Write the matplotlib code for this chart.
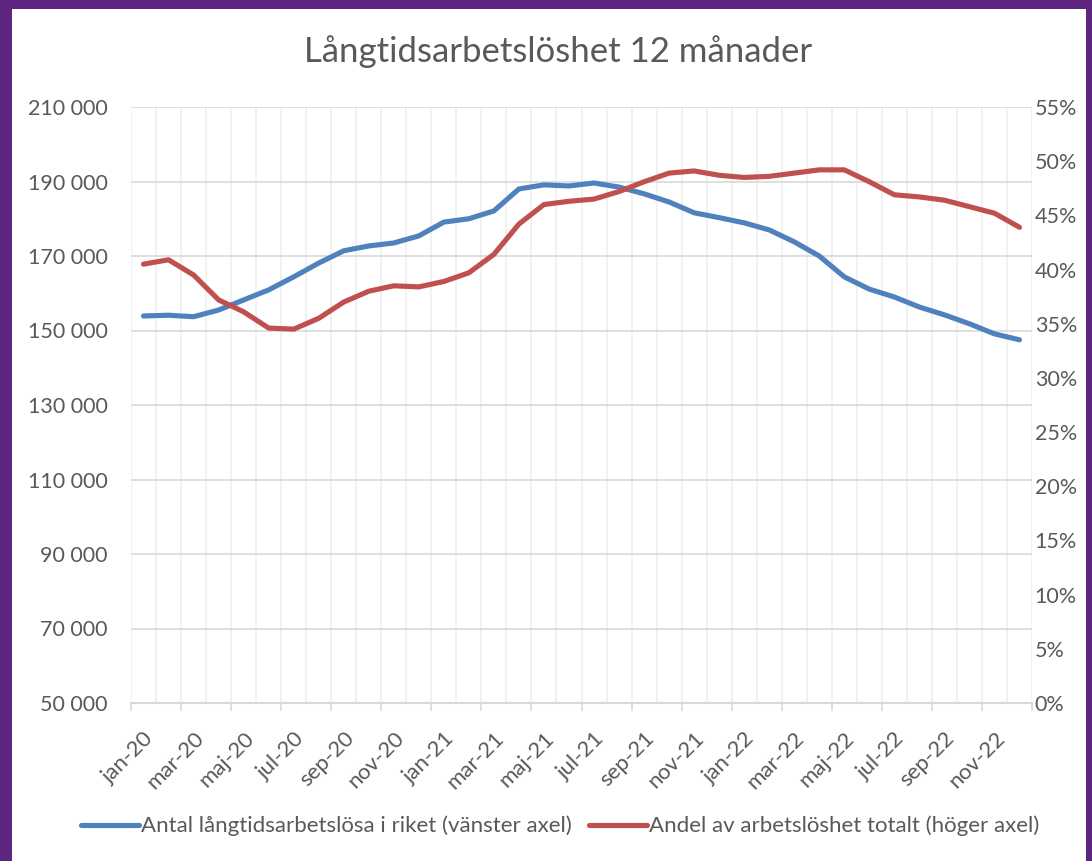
import numpy as np
import matplotlib
matplotlib.use("Agg")
import matplotlib.pyplot as plt
from matplotlib.lines import Line2D
from matplotlib.patches import Rectangle
from matplotlib.ticker import FuncFormatter

MONTHS = ["jan", "feb", "mar", "apr", "maj", "jun", "jul", "aug", "sep", "okt", "nov", "dec"]
YEARS = ["20", "21", "22"]
labels = [f"{m}-{y}" for y in YEARS for m in MONTHS]

# antal långtidsarbetslösa (vänster axel)
antal = [153900, 154100, 153700, 155500, 158200, 160900, 164400, 168100, 171400, 172700,
         173500, 175400, 179100, 180000, 182100, 188000, 189100, 188800, 189600, 188500,
         186700, 184500, 181600, 180300, 178900, 177000, 173800, 170000, 164400, 161100,
         159000, 156300, 154200, 151800, 149100, 147500]
# andel av arbetslöshet totalt, % (höger axel)
andel = [40.5, 40.9, 39.5, 37.2, 36.1, 34.6, 34.5, 35.5, 37.0, 38.0, 38.5, 38.4,
         38.9, 39.7, 41.4, 44.2, 46.0, 46.3, 46.5, 47.2, 48.1, 48.9, 49.1, 48.7,
         48.5, 48.6, 48.9, 49.2, 49.2, 48.1, 46.9, 46.7, 46.4, 45.8, 45.2, 43.9]

BLUE, RED = "#4f81bd", "#c0504d"
TXT, GRID, VGRID = "#595959", "#d9d9d9", "#efefef"
FONT = ["Lato", "DejaVu Sans"]
plt.rcParams["font.family"] = FONT
FS = 15.5

fig = plt.figure(figsize=(10.92, 8.61), dpi=100, facecolor="white")
# lila ram
fig.patches.append(Rectangle((0, 0), 1, 1, transform=fig.transFigure, facecolor="#5e2580",
                             edgecolor="none", zorder=-10))
fig.patches.append(Rectangle((12 / 1092, 0), (1092 - 12 - 6) / 1092, (861 - 9) / 861,
                             transform=fig.transFigure, facecolor="white", edgecolor="none",
                             zorder=-9))

ax = fig.add_axes([131 / 1092, 1 - 703 / 861, (1032 - 131) / 1092, (703 - 107) / 861])
ax.set_facecolor("none")
x = np.arange(len(labels))
ax.set_xlim(-0.5, len(labels) - 0.5)
ax.set_ylim(50000, 210000)
ax.set_yticks(np.arange(50000, 210001, 20000))
ax.yaxis.set_major_formatter(FuncFormatter(lambda v, p: f"{int(v):,}".replace(",", " ")))
ax.grid(axis="y", color=GRID, lw=1.2, zorder=0)
for b in np.arange(-0.5, len(labels), 1.0):
    ax.axvline(b, color=VGRID, lw=1.2, zorder=0)
for s in ["top", "right", "left"]:
    ax.spines[s].set_visible(False)
ax.spines["bottom"].set_color(GRID)
ax.spines["bottom"].set_linewidth(1.5)

ax.set_xticks(x[::2])
ax.set_xticklabels(labels[::2], rotation=45, ha="right", rotation_mode="anchor")
ax.set_xticks(np.arange(-0.5, len(labels), 2.0), minor=True)
ax.tick_params(axis="x", which="major", length=0, pad=18, labelsize=16, labelcolor=TXT)
ax.tick_params(axis="x", which="minor", length=6, color=GRID, width=1.2)
ax.tick_params(axis="y", length=0, pad=17, labelsize=FS, labelcolor=TXT)

ax.plot(x, antal, color=BLUE, lw=3.7, solid_capstyle="round", solid_joinstyle="round", zorder=3)

ax2 = ax.twinx()
ax2.set_ylim(0, 55)
ax2.set_yticks(np.arange(0, 56, 5))
ax2.yaxis.set_major_formatter(FuncFormatter(lambda v, p: f"{int(v)}%"))
ax2.tick_params(axis="y", length=0, pad=2, labelsize=FS, labelcolor=TXT)
for s in ax2.spines.values():
    s.set_visible(False)
ax2.plot(x, andel, color=RED, lw=3.7, solid_capstyle="round", solid_joinstyle="round", zorder=3)

fig.text(0.511, 1 - 52 / 861, "Långtidsarbetslöshet 12 månader", ha="center", va="center",
         fontsize=25, color=TXT)

handles = [Line2D([0], [0], color=BLUE, lw=3.7, solid_capstyle="round"),
           Line2D([0], [0], color=RED, lw=3.7, solid_capstyle="round")]
fig.legend(handles, ["Antal långtidsarbetslösa i riket (vänster axel)",
                     "Andel av arbetslöshet totalt (höger axel)"],
           loc="center", bbox_to_anchor=(0.513, 1 - 826 / 861), ncol=2, frameon=False,
           fontsize=16, labelcolor=TXT, handlelength=2.6, handletextpad=0.1,
           columnspacing=0.8)

fig.savefig("out.png", dpi=100, facecolor=fig.get_facecolor())
